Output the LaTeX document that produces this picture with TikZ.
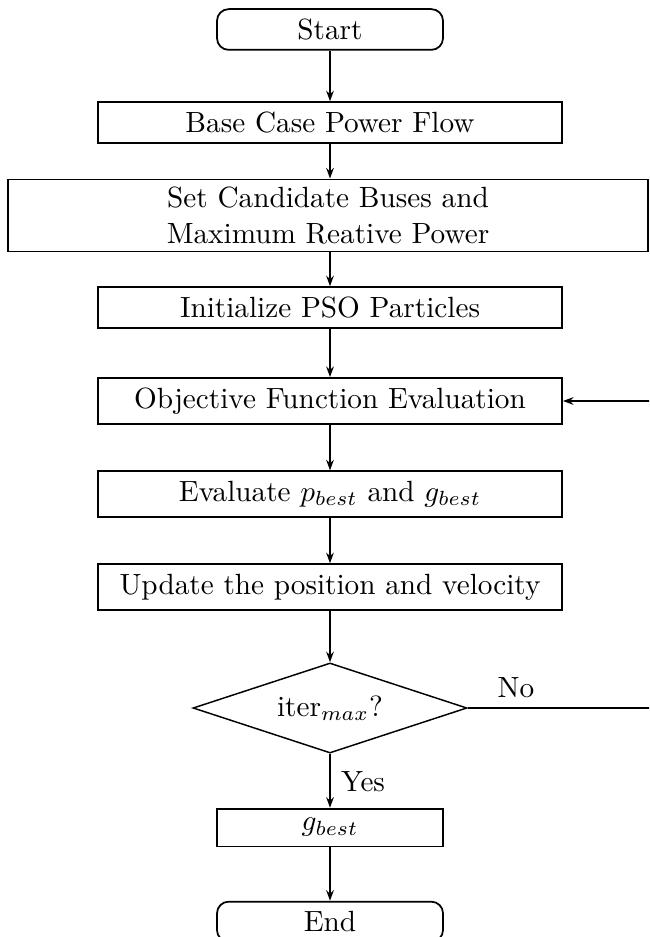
\documentclass[tikz,border=0pt]{standalone}
\usetikzlibrary{shapes.geometric,arrows.meta}
\begin{document}
\begin{tikzpicture}[x=0.342pt,y=-0.342pt,
  box/.style={draw,line width=0.6pt,minimum width=158.7pt,align=center},
  term/.style={draw,line width=0.6pt,rounded corners=4pt,minimum width=77.3pt,minimum height=13.5pt},
  dec/.style={draw,line width=0.5pt,diamond,aspect=3.04,minimum width=93.7pt,minimum height=30.8pt,inner sep=0pt},
  arr/.style={line width=0.6pt,-{Stealth[length=3.6pt,width=2.6pt]}},
  lbl/.style={inner sep=0pt}]
\useasboundingbox (0,0) rectangle (649,937);
\clip (0,0) rectangle (649,937);
\node[term] (start) at (330,29.5) {Start};
\node[box,minimum width=218.9pt,inner ysep=2.7pt] (cand) at (328,215.5) {Set Candidate Buses and\\Maximum Reative Power};
\node[box] (base) at (330,122.5) {Base Case Power Flow};
\node[box] (init) at (330,307.5) {Initialize PSO Particles};
\node[box] (obj) at (330,401) {Objective Function Evaluation};
\node[box] (eval) at (330,494) {Evaluate $p_{best}$ and $g_{best}$};
\node[box] (upd) at (330,587) {Update the position and velocity};
\node[dec] (chk) at (330,708) {iter$_{max}$?};
\node[box,minimum width=77.3pt] (gb) at (330,827.5) {$g_{best}$};
\node[term] (end) at (330,921.7) {End};
\node[lbl] (no) at (516,688) {No};
\node[lbl] (yes) at (363,782) {Yes};
\coordinate (fb) at (680,708);
\draw[arr] (start) -- (base);
\draw[arr] (base.south) -- (base.south |- cand.north);
\draw[arr] (cand.south -| init.north) -- (init.north);
\draw[arr] (init) -- (obj);
\draw[arr] (obj) -- (eval);
\draw[arr] (eval) -- (upd);
\draw[arr] (upd) -- (chk);
\draw[arr] (chk) -- (gb);
\draw[arr] (gb) -- (end);
\draw[arr] (chk.east) -- (fb) |- (obj.east);
\end{tikzpicture}
\end{document}
